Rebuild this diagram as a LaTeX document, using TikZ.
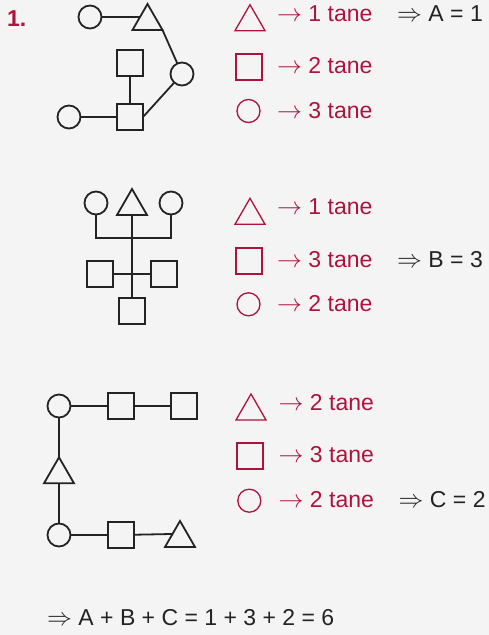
\documentclass[tikz,border=0pt]{standalone}
\usepackage{fontspec}
\setmainfont{Liberation Sans}
\usetikzlibrary{shapes.geometric}
\definecolor{bg}{RGB}{244,244,244}
\definecolor{crim}{RGB}{176,18,62}
\definecolor{ink}{RGB}{35,35,35}
\tikzset{
  plain/.style={inner sep=0pt, outer sep=0pt},
  circ/.style={plain, circle, draw=ink, line width=1.8pt, minimum size=23pt},
  sq/.style={plain, rectangle, draw=ink, line width=1.8pt, minimum size=26pt},
  tri/.style={plain, regular polygon, regular polygon sides=3, minimum size=34.6pt, draw=ink, line width=1.8pt},
  lcirc/.style={circ, draw=crim, line width=1.3pt},
  lsq/.style={sq, draw=crim, line width=1.3pt},
  ltri/.style={tri, draw=crim, line width=1.3pt},
  link/.style={draw=ink, line width=1.8pt},
  lbl/.style={anchor=base west, inner sep=0pt, text=crim, text height=17pt, text depth=1pt, font=\fontsize{23}{27}\selectfont},
  res/.style={lbl, text=ink},
}
\begin{document}
\begin{tikzpicture}[x=1pt, y=-1pt]
\fill[bg] (0,0) rectangle (489,635);
\useasboundingbox (0,0) rectangle (489,635);

\node[lbl, font=\fontsize{23}{27}\selectfont\bfseries] (num) at (7,26) {1.};

% ---- Diagram A ----
\node[circ] (a1) at (90,17) {};
\node[tri]  (a2) at (147.5,21.3) {};
\node[sq]   (a3) at (130,63) {};
\node[circ] (a4) at (182,74) {};
\node[sq]   (a5) at (130,117) {};
\node[circ] (a6) at (69,117) {};
\draw[link] (a1) -- (a2.side 1);
\draw[link] (a2.corner 3) -- (a4);
\draw[link] (a3) -- (a5);
\draw[link] (a6) -- (a5);
\draw[link] (a5.east) -- (a4);

% legend A
\node[ltri]  (la1) at (250,22) {};
\node[lsq]   (la2) at (249,67) {};
\node[lcirc] (la3) at (248.5,111) {};
\node[lbl] (ta1) at (277,21.7) {$\rightarrow$ 1 tane};
\node[lbl] (ta2) at (277,73.3) {$\rightarrow$ 2 tane};
\node[lbl] (ta3) at (277,118.3) {$\rightarrow$ 3 tane};
\node[res] (ra) at (397,21.7) {$\Rightarrow$ A = 1};

% ---- Diagram B ----
\node[circ] (b1) at (96,203) {};
\node[tri]  (b2) at (132,206.3) {};
\node[circ] (b3) at (171,203) {};
\coordinate (bj) at (132,238);
\node[sq]   (b4) at (100,274) {};
\node[sq]   (b5) at (164,274) {};
\node[sq]   (b6) at (132,311) {};
\draw[link] (b1.south) |- (bj) -| (b3.south);
\draw[link] (b2.side 2) -- (b6.north);
\draw[link] (b4) -- (b5);

% legend B
\node[ltri]  (lb1) at (250,215.6) {};
\node[lsq]   (lb2) at (249,261) {};
\node[lcirc] (lb3) at (248.5,304.3) {};
\node[lbl] (tb1) at (277,214.3) {$\rightarrow$ 1 tane};
\node[lbl] (tb2) at (277,267.3) {$\rightarrow$ 3 tane};
\node[lbl] (tb3) at (277,311.7) {$\rightarrow$ 2 tane};
\node[res] (rb) at (397,267.3) {$\Rightarrow$ B = 3};

% ---- Diagram C ----
\node[circ] (c1) at (59,406) {};
\node[sq]   (c2) at (121,406) {};
\node[sq]   (c3) at (184,406) {};
\node[tri]  (c4) at (59,474.6) {};
\node[circ] (c5) at (59,535) {};
\node[sq]   (c6) at (121,535) {};
\node[tri]  (c7) at (180,538.3) {};
\draw[link] (c1) -- (c2);
\draw[link] (c2) -- (c3);
\draw[link] (c1) -- (c4.corner 1);
\draw[link] (c4.side 2) -- (c5);
\draw[link] (c5) -- (c6);
\draw[link] (c6) -- (c7.side 1);

% legend C
\node[ltri]  (lc1) at (251,411.3) {};
\node[lsq]   (lc2) at (250,456) {};
\node[lcirc] (lc3) at (249.3,500.7) {};
\node[lbl] (tc1) at (278.5,410) {$\rightarrow$ 2 tane};
\node[lbl] (tc2) at (278.5,462.3) {$\rightarrow$ 3 tane};
\node[lbl] (tc3) at (278.5,507.7) {$\rightarrow$ 2 tane};
\node[res] (rc) at (398.5,507.7) {$\Rightarrow$ C = 2};

% total
\node[res] (tot) at (47,625) {$\Rightarrow$ A + B + C = 1 + 3 + 2 = 6};
\end{tikzpicture}
\end{document}
